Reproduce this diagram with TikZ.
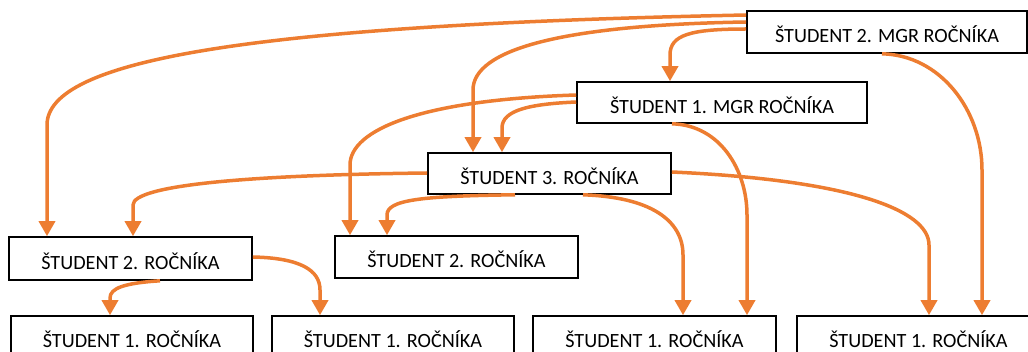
\documentclass[tikz,border=0pt]{standalone}
\usepackage{fontspec}
\setmainfont{Carlito}
\usetikzlibrary{arrows.meta}
\definecolor{conn}{HTML}{ED7D31}
\tikzset{
  box/.style={draw=black, line width=1.6pt, fill=white, minimum height=42pt, inner sep=0pt, text height=22pt, text depth=0pt, font=\fontsize{20.2}{22}\selectfont},
  link/.style={draw=conn, line width=3.5pt, -{Triangle[length=15pt,width=16pt]}}
}
\begin{document}
\begin{tikzpicture}[x=1pt,y=-1pt]
\useasboundingbox (0,0) rectangle (1028,352);
\node[box, minimum width=280pt] (M2) at (887,32) {ŠTUDENT 2. MGR ROČNÍKA};
\node[box, minimum width=290pt, minimum height=41pt] (M1) at (722,102.5) {ŠTUDENT 1. MGR ROČNÍKA};
\node[box, minimum width=243pt, minimum height=41pt] (S3) at (549.5,173.5) {ŠTUDENT 3. ROČNÍKA};
\node[box, minimum width=243pt, minimum height=43pt] (S2a) at (130.5,258.5) {ŠTUDENT 2. ROČNÍKA};
\node[box, minimum width=243pt] (S2b) at (456.5,257) {ŠTUDENT 2. ROČNÍKA};
\node[box, minimum width=242pt] (S1a) at (132,337) {ŠTUDENT 1. ROČNÍKA};
\node[box, minimum width=242pt] (S1b) at (393,337) {ŠTUDENT 1. ROČNÍKA};
\node[box, minimum width=243pt] (S1c) at (654.5,337) {ŠTUDENT 1. ROČNÍKA};
\node[box, minimum width=243pt] (S1d) at (918.5,337) {ŠTUDENT 1. ROČNÍKA};

% from M2
\draw[link] (M2.west |- 0,15) .. controls (250,25) and (47,60) .. (47,125) -- (47,0 |- S2a.north);
\draw[link] (M2.west |- 0,22) .. controls (560,25) and (473,50) .. (473,90) -- (473,0 |- S3.north);
\draw[link] (M2.west |- 0,29) .. controls (690,29) and (670,35) .. (670,55) -- (670,0 |- M1.north);
\draw[link] (882,0 |- M2.south) .. controls (940,55) and (982,110) .. (982,170) -- (982,0 |- S1d.north);
% from M1
\draw[link] (M1.west |- 0,95) .. controls (420,100) and (350,130) .. (350,165) -- (350,0 |- S2b.north);
\draw[link] (M1.west |- 0,102) .. controls (530,104) and (502,110) .. (502,128) -- (502,0 |- S3.north);
\draw[link] (672,0 |- M1.south) .. controls (720,125) and (747,170) .. (747,215) -- (747,0 |- S1c.north);
% from S3
\draw[link] (S3.west |- 0,173) .. controls (250,175) and (133,185) .. (133,205) -- (133,0 |- S2a.north);
\draw[link] (515,0 |- S3.south) .. controls (420,196) and (387,200) .. (387,215) -- (387,0 |- S2b.north);
\draw[link] (583,0 |- S3.south) .. controls (650,197) and (683,220) .. (683,255) -- (683,0 |- S1c.north);
\draw[link] (S3.east |- 0,172) .. controls (850,180) and (929,210) .. (929,245) -- (929,0 |- S1d.north);
% from S2a
\draw[link] (160,0 |- S2a.south) .. controls (125,283) and (110,288) .. (110,298) -- (110,0 |- S1a.north);
\draw[link] (S2a.east |- 0,257) .. controls (300,258) and (320,270) .. (320,290) -- (320,0 |- S1b.north);
\end{tikzpicture}
\end{document}
